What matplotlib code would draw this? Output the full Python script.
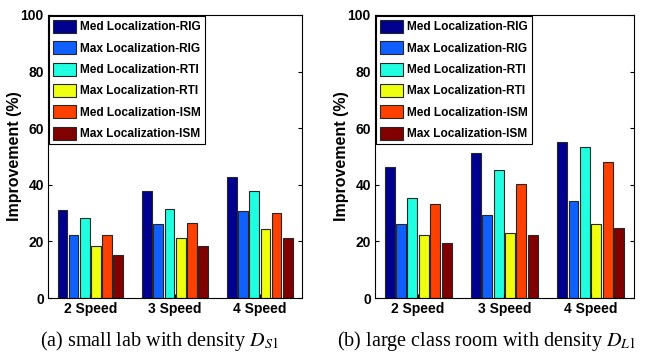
import numpy as np
import matplotlib
matplotlib.use("Agg")
import matplotlib.pyplot as plt
from matplotlib.patches import Patch

plt.rcParams['font.family'] = ['Liberation Sans', 'DejaVu Sans']
plt.rcParams['mathtext.fontset'] = 'stix'

groups = ['2 Speed', '3 Speed', '4 Speed']
series = ['Med Localization-RIG', 'Max Localization-RIG',
          'Med Localization-RTI', 'Max Localization-RTI',
          'Med Localization-ISM', 'Max Localization-ISM']
colors = ['#00008f', '#1060ff', '#20ffdf', '#efff10', '#ff4000', '#800000']

# rows = series, cols = groups
small_lab = [
    [31.2, 37.7, 42.9],
    [22.1, 26.2, 30.8],
    [28.2, 31.4, 37.7],
    [18.3, 21.3, 24.4],
    [22.1, 26.5, 30.2],
    [15.3, 18.3, 21.2],
]
large_room = [
    [46.2, 51.1, 55.2],
    [26.3, 29.5, 34.1],
    [35.3, 45.4, 53.2],
    [22.1, 23.1, 26.3],
    [33.3, 40.2, 47.9],
    [19.3, 22.1, 24.9],
]
captions = [r'(a) small lab with density $D_{S1}$',
            r'(b) large class room with density $D_{L1}$']

fig = plt.figure(figsize=(6.55, 3.52), dpi=100)
axes = [fig.add_axes([0.0733, 0.1534, 0.388, 0.804]),
        fig.add_axes([0.5725, 0.1534, 0.395, 0.804])]

x = np.arange(1, len(groups) + 1)
slot = 0.132
for ax, data in zip(axes, [small_lab, large_room]):
    for i, vals in enumerate(data):
        ax.bar(x + (i - 2.5) * slot, vals, width=0.115, color=colors[i],
               edgecolor='0.15', linewidth=0.8)
    ax.set_xlim(0.5, 3.5)
    ax.set_ylim(0, 100)
    ax.set_yticks(range(0, 101, 20))
    ax.set_xticks(x)
    ax.set_xticklabels(groups)
    ax.tick_params(direction='in', top=False, right=True, labelsize=10,
                   length=3, pad=3)
    for lab in ax.get_xticklabels() + ax.get_yticklabels():
        lab.set_fontweight('bold')
    ax.set_ylabel('Improvement (%)', fontsize=11.5, fontweight='bold', labelpad=-1)
    handles = [Patch(facecolor=c, edgecolor='0.15', linewidth=0.8) for c in colors]
    leg = ax.legend(handles, series, loc='upper left',
                    prop={'size': 8.6, 'weight': 'bold'},
                    handlelength=1.95, handleheight=1.3, labelspacing=0.66,
                    handletextpad=0.35, borderpad=0.35, borderaxespad=0.05,
                    fancybox=False, framealpha=1, edgecolor='black')
    leg.get_frame().set_linewidth(0.8)

fig.text(0.061, 0.016, captions[0], fontsize=14.5, family='Liberation Serif',
         ha='left', va='baseline')
fig.text(0.5145, 0.016, captions[1], fontsize=14.5, family='Liberation Serif',
         ha='left', va='baseline')

fig.savefig('out.png', dpi=100)
